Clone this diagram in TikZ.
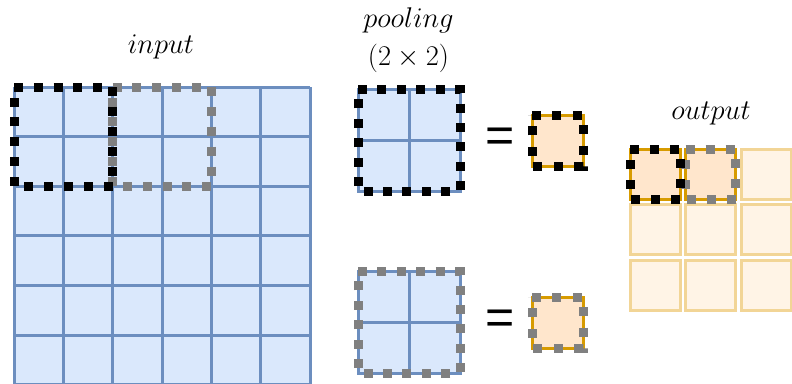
\RequirePackage{fix-cm}
\documentclass[tikz,border=0pt]{standalone}
\usepackage{fontspec}
\newfontfamily\eqfont{Liberation Sans}
\definecolor{bluefill}{HTML}{DAE8FC}
\definecolor{blueline}{HTML}{6C8EBF}
\definecolor{orfill}{HTML}{FFE6CC}
\definecolor{orline}{HTML}{D79B00}
\definecolor{lorfill}{HTML}{FFF4E6}
\definecolor{lorline}{HTML}{F2D596}
\definecolor{dotgray}{HTML}{808080}
\begin{document}
\begin{tikzpicture}[x=1pt,y=-1pt,
 gridline/.style={draw=blueline,line width=3pt},
 bluecell/.style={fill=bluefill,draw=blueline,line width=3pt},
 orcell/.style={fill=orfill,draw=orline,line width=3pt},
 lorcell/.style={fill=lorfill,draw=lorline,line width=3pt},
 dotblack/.style={draw=black,line width=9pt,dash pattern=on 9pt off #1},
 dotblack/.default=10.8pt,
 dotgrey/.style={draw=dotgray,line width=9pt,dash pattern=on 9pt off #1},
 dotgrey/.default=10.8pt,
 lbl/.style={font=\fontsize{28.5}{34}\selectfont,anchor=base,inner sep=0pt},
 eqsign/.style={font=\eqfont\fontsize{50}{60}\selectfont,inner sep=0pt}]
\useasboundingbox (0,0) rectangle (792,383);

% labels
\node[lbl] (inputlbl) at (161,53) {$input$};
\node[lbl] (poolinglbl) at (408.5,27) {$pooling$};
\node[lbl] (sizelbl) at (408.5,65) {$(2\times 2)$};
\node[lbl] (outputlbl) at (711,119) {$output$};

% input grid (bottom row runs off the picture)
\fill[bluefill] (14,87) rectangle (310,386);
\foreach \i in {0,...,6} {
  \draw[gridline] (14+\i*49.333,87) -- (14+\i*49.333,386);
  \draw[gridline] (14,87+\i*49.6) -- (310,87+\i*49.6);
}
\draw[dotgrey=10.8pt] (112.67,87) -- (211.33,87) -- (211.33,186.2) -- (112.67,186.2) -- (112.67,87);
\draw[dotblack=10.8pt] (14,87) -- (112.67,87) -- (112.67,186.2) -- (14,186.2) -- (14,87);

% pooling boxes
\draw[bluecell] (358,89) rectangle (460,191);
\draw[gridline] (409,89) -- (409,191);
\draw[gridline] (358,140) -- (460,140);
\draw[dotblack=10.43pt] (358,89) -- (460,89) -- (460,191) -- (358,191) -- (358,89);

\draw[bluecell] (358,271) rectangle (460,373);
\draw[gridline] (409,271) -- (409,373);
\draw[gridline] (358,322) -- (460,322);
\draw[dotgrey=10.43pt] (358,271) -- (460,271) -- (460,373) -- (358,373) -- (358,271);

% equals
\node[eqsign] (eqtop) at (500.5,140) {=};
\node[eqsign] (eqbot) at (500.5,322) {=};

% single results
\draw[orcell] (532,115) rectangle (583,166);
\draw[dotblack=11.4pt] (532,115) -- (583,115) -- (583,166) -- (532,166) -- (532,115);
\draw[orcell] (532,297) rectangle (583,348);
\draw[dotgrey=11.4pt] (532,297) -- (583,297) -- (583,348) -- (532,348) -- (532,297);

% output grid
\foreach \c in {0,1,2} {
  \foreach \r in {0,1,2} {
    \draw[lorcell] (630+\c*55.5,149+\r*55.5) rectangle ++(50,50);
  }
}
\draw[orcell] (630,149) rectangle (680,199);
\draw[orcell] (685.5,149) rectangle (735.5,199);
\draw[dotgrey=11pt] (685.5,149) -- (735.5,149) -- (735.5,199) -- (685.5,199) -- (685.5,149);
\draw[dotblack=11pt] (630,149) -- (680,149) -- (680,199) -- (630,199) -- (630,149);
\end{tikzpicture}
\end{document}
